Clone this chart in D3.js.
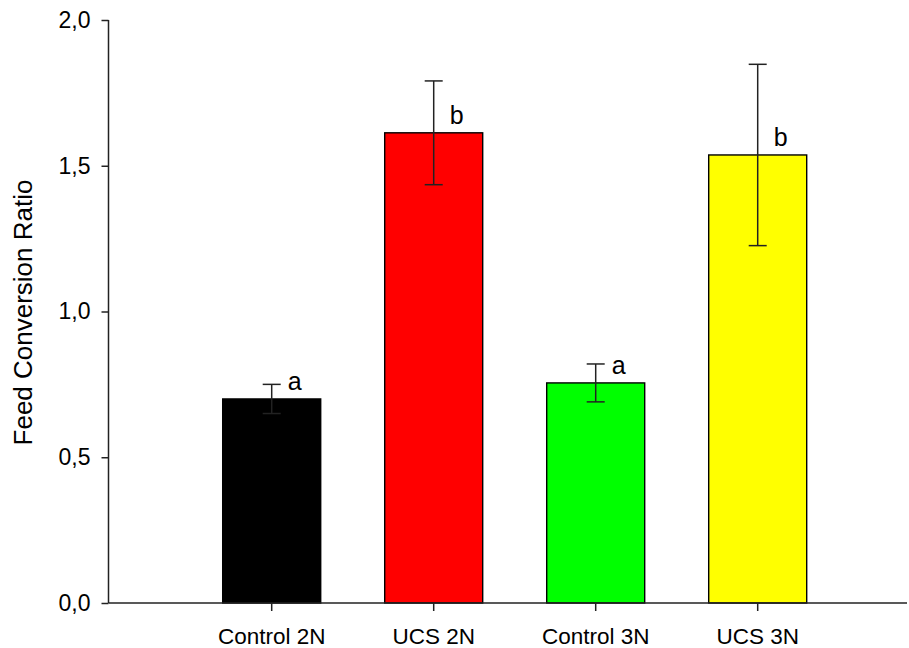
<!DOCTYPE html>
<html>
<head>
<meta charset="utf-8">
<script src="https://cdn.jsdelivr.net/npm/d3@7"></script>
<style>
  html, body { margin: 0; padding: 0; background: #fff; }
  svg { display: block; font-family: Arial, "Liberation Sans", sans-serif; }
</style>
</head>
<body>
<svg id="chart" width="909" height="648"></svg>
<script>
// Feed conversion ratio per treatment group (mean ± error), with significance letters
const categories = ["Control 2N", "UCS 2N", "Control 3N", "UCS 3N"];
const means      = [0.700, 1.613, 0.755, 1.537];
const errors     = [0.050, 0.178, 0.065, 0.311];
const letters    = ["a", "b", "a", "b"];
const colors     = ["#000000", "#ff0000", "#00ff00", "#ffff00"];
const yTicks     = [0, 0.5, 1.0, 1.5, 2.0];

const svg = d3.select("#chart");

const axisLeftX = 108.5, axisRightX = 907;
const plotTop = 20, plotBottom = 603;

const x = d3.scaleBand()
  .domain(categories)
  .range([190.7, 838.7])
  .paddingInner(0.395)
  .paddingOuter(0.1975);

const y = d3.scaleLinear().domain([0, 2]).range([plotBottom, plotTop]);

const fmt = d => d3.format(".1f")(d).replace(".", ",");

// Bars
svg.append("g").selectAll("rect")
  .data(categories)
  .join("rect")
  .attr("x", d => x(d))
  .attr("y", (d, i) => y(means[i]))
  .attr("width", x.bandwidth())
  .attr("height", (d, i) => y(0) - y(means[i]))
  .attr("fill", (d, i) => colors[i])
  .attr("stroke", "#000")
  .attr("stroke-width", 1.4);

// Error bars
const eb = svg.append("g").attr("stroke", "#222").attr("stroke-width", 1.5).attr("fill", "none");
categories.forEach((c, i) => {
  const cx = x(c) + x.bandwidth() / 2;
  const hi = y(means[i] + errors[i]);
  const lo = y(means[i] - errors[i]);
  eb.append("line").attr("x1", cx).attr("x2", cx).attr("y1", hi).attr("y2", lo);
  eb.append("line").attr("x1", cx - 9).attr("x2", cx + 9).attr("y1", hi).attr("y2", hi);
  eb.append("line").attr("x1", cx - 9).attr("x2", cx + 9).attr("y1", lo).attr("y2", lo);
});

// Significance letters
svg.append("g").selectAll("text")
  .data(categories)
  .join("text")
  .attr("x", d => x(d) + x.bandwidth() / 2 + 16)
  .attr("y", (d, i) => y(means[i]) - 9)
  .attr("font-size", 25)
  .attr("fill", "#000")
  .text((d, i) => letters[i]);

// Y axis
const yAxis = svg.append("g")
  .attr("transform", `translate(${axisLeftX},0)`)
  .call(d3.axisLeft(y).tickValues(yTicks).tickFormat(fmt).tickSize(7).tickPadding(11));
yAxis.select(".domain").attr("d", `M0,${plotTop}V${plotBottom}`).attr("stroke", "#222").attr("stroke-width", 1.5);
yAxis.selectAll(".tick line").attr("stroke", "#222").attr("stroke-width", 1.5);
yAxis.selectAll(".tick text").attr("font-size", 23).attr("fill", "#000")
  .attr("font-family", "Arial, 'Liberation Sans', sans-serif");

// X axis
const xAxis = svg.append("g")
  .attr("transform", `translate(0,${plotBottom})`)
  .call(d3.axisBottom(x).tickSize(8).tickPadding(17));
xAxis.select(".domain").attr("d", `M${axisLeftX},0H${axisRightX}`).attr("stroke", "#222").attr("stroke-width", 1.5);
xAxis.selectAll(".tick line").attr("stroke", "#222").attr("stroke-width", 1.5);
xAxis.selectAll(".tick text").attr("font-size", 22.5).attr("fill", "#000")
  .attr("font-family", "Arial, 'Liberation Sans', sans-serif");

// Y axis title
svg.append("text")
  .attr("transform", `translate(32,312.5) rotate(-90)`)
  .attr("text-anchor", "middle")
  .attr("font-size", 26)
  .attr("fill", "#000")
  .text("Feed Conversion Ratio");
</script>
</body>
</html>
